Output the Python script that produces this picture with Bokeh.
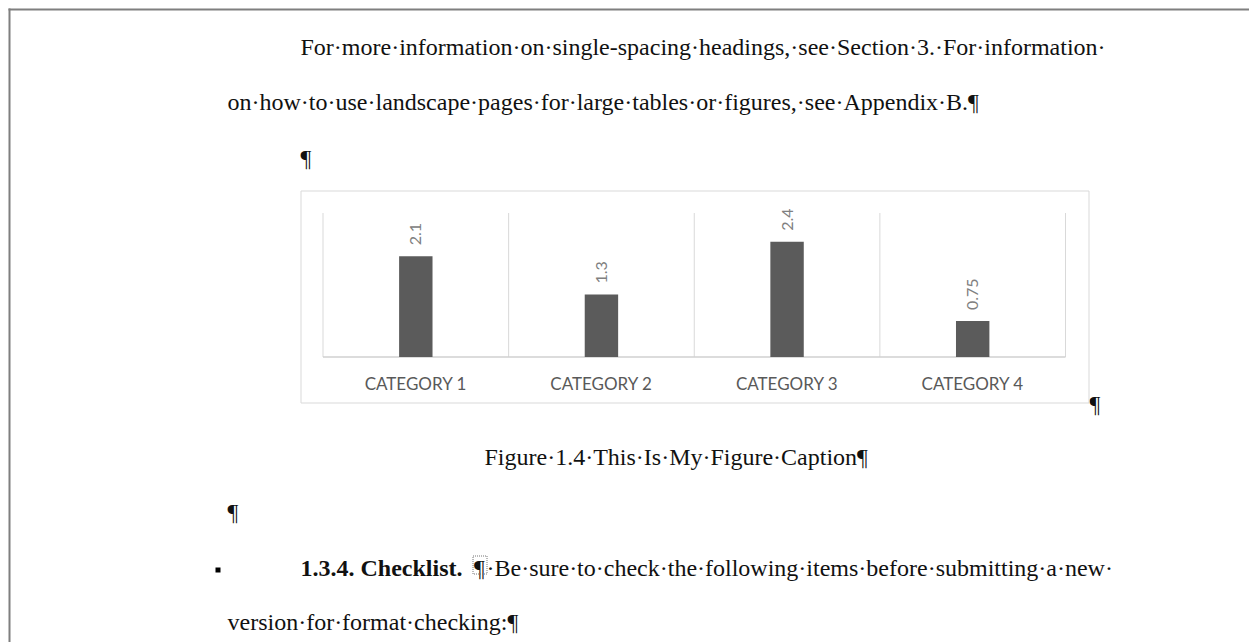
import math
from bokeh.plotting import figure
from bokeh.models import Range1d, ColumnDataSource
from bokeh.core.properties import value
from bokeh.embed import file_html
from bokeh.resources import INLINE

# ---------------- data ----------------
categories = ["CATEGORY 1", "CATEGORY 2", "CATEGORY 3", "CATEGORY 4"]
values = [2.1, 1.3, 2.4, 0.75]
value_labels = ["2.1", "1.3", "2.4", "0.75"]
y_max = 3.0

para_line1 = "For·more·information·on·single-spacing·headings,·see·Section·3.·For·information·"
para_line2 = "on·how·to·use·landscape·pages·for·large·tables·or·figures,·see·Appendix·B.¶"
mark = "¶"
caption = "Figure·1.4·This·Is·My·Figure·Caption¶"
heading = "1.3.4. Checklist."
checklist_rest = "·Be·sure·to·check·the·following·items·before·submitting·a·new·"
checklist_line2 = "version·for·format·checking:¶"

# ---------------- layout ----------------
W, H = 1249, 642
OX, OY = 0, 0


def fx(X):
    return X - OX


def fy(Y):
    return Y - OY


p = figure(width=W, height=H, x_range=Range1d(0, W), y_range=Range1d(H, 0),
           output_backend="svg", toolbar_location=None, min_border=0)
p.axis.visible = False
p.grid.visible = False
p.outline_line_color = None
p.background_fill_color = "white"
p.border_fill_color = "white"

# page edge (top and left)
p.segment(x0=[fx(8), fx(9)], y0=[fy(9), fy(8)], x1=[fx(W), fx(9)], y1=[fy(9), fy(H)],
          line_color="#7f7f7f", line_width=2)

SERIF = value("Liberation Serif")
FS = "24px"
TXT = "#111111"


def doc_text(X, Y, s, bold=False):
    p.text(x=[fx(X)], y=[fy(Y)], text=[s], text_font=SERIF, text_font_size=FS,
           text_color=TXT, text_align="left", text_baseline="alphabetic",
           text_font_style="bold" if bold else "normal")


doc_text(300, 46, para_line1)
doc_text(227, 101, para_line2)
doc_text(300, 157, mark)
doc_text(1089, 403, mark)
doc_text(484, 456, caption)
doc_text(227, 511, mark)
doc_text(300, 567, heading, bold=True)
doc_text(473.5, 567, mark)
doc_text(486, 567, checklist_rest)
doc_text(227, 621, checklist_line2)

# dotted box around the style-separator mark
p.quad(left=[fx(472.5)], right=[fx(486.5)], top=[fy(555.5)], bottom=[fy(573.5)],
       fill_color=None, line_color="#777777", line_width=1, line_dash="1 1")
# small keep-with-next square
p.quad(left=[fx(215)], right=[fx(220)], top=[fy(567)], bottom=[fy(572)],
       fill_color="black", line_color=None)

# ---------------- chart ----------------
# chart area box
p.quad(left=[fx(300.5)], right=[fx(1088.5)], top=[fy(190.5)], bottom=[fy(402.5)],
       fill_color=None, line_color="#d9d9d9", line_width=1)

PL, PR, PT, PB = 322.5, 1065.0, 212.5, 356.5
n = len(categories)
unit_x = (PR - PL) / n
cat_start = -(PL - OX) / unit_x
unit_y = (PB - PT) / y_max
p.extra_x_ranges = {"cat": Range1d(cat_start, cat_start + W / unit_x)}
p.extra_y_ranges = {"val": Range1d(-(OY + H - PB) / unit_y, (PB - OY) / unit_y)}

centers = [i + 0.5 for i in range(n)]
bounds = list(range(n + 1))
src = ColumnDataSource(dict(x=centers, top=values, cat=categories, lab=value_labels))

p.segment(x0=bounds, y0=[0] * len(bounds), x1=bounds, y1=[y_max] * len(bounds),
          x_range_name="cat", y_range_name="val", line_color="#d9d9d9", line_width=1)
p.segment(x0=[0], y0=[0], x1=[n], y1=[0], x_range_name="cat", y_range_name="val",
          line_color="#d0d0d0", line_width=1.5)

p.vbar(x="x", top="top", bottom=0, width=0.18, source=src, x_range_name="cat",
       y_range_name="val", fill_color="#5b5b5b", line_color=None)

SANS = value("Lato")
p.text(x="x", y="top", text="lab", source=src, x_range_name="cat", y_range_name="val",
       angle=math.pi / 2, text_align="left", text_baseline="middle", y_offset=-11,
       text_font=SANS, text_font_size="16px", text_color="#808080")
p.text(x="x", y=0, text="cat", source=src, x_range_name="cat", y_range_name="val",
       text_align="center", text_baseline="alphabetic", y_offset=26,
       text_font=SANS, text_font_size="17px", text_color="#595959")

open("out.html", "w").write(file_html(p, INLINE))
